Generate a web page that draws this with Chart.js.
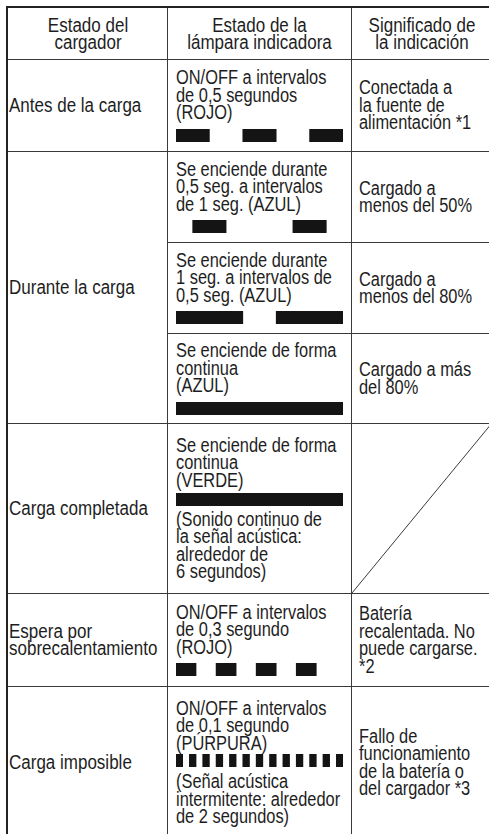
<!DOCTYPE html>
<html lang="es">
<head>
<meta charset="utf-8">
<title>Estado del cargador</title>
<style>
    html, body {
        margin: 0;
        padding: 0;
        background: #fff;
    }
    #sheet {
        position: relative;
        width: 489px;
        height: 834px;
        overflow: hidden;
        font-family: "Liberation Sans", Arial, Helvetica, sans-serif;
        font-size: 20px;
        line-height: 17.5px;
        color: #1e1e1e;
    }
    .cell {
        position: absolute;
        box-sizing: border-box;
        display: flex;
        flex-direction: column;
        justify-content: center;
    }
    .txt {
        white-space: nowrap;
        transform: scaleX(0.82);
        transform-origin: left center;
    }
    .wide .txt {
        transform: scaleX(0.85);
    }
    .center .txt {
        text-align: center;
        transform-origin: center center;
    }
    .rule {
        position: absolute;
        background: #3a3a3a;
    }
    .pulse {
        width: 167px;
        height: 13px;
    }
    .pulse canvas {
        display: block;
    }
</style>
</head>
<body>
<div id="sheet"></div>
<script src="https://cdn.jsdelivr.net/npm/chart.js@4"></script>
<script>
// Column headers
const headers = ['Estado del\ncargador', 'Estado de la\nlámpara indicadora', 'Significado de\nla indicación'];

// Left column: charger state (some span several lamp rows)
const chargerStates = ['Antes de la carga', 'Durante la carga', 'Carga completada', 'Espera por\nsobrecalentamiento', 'Carga imposible'];
const chargerSpans = [1, 3, 1, 1, 1];

// Middle column: lamp description, text under the pulse bar
const lampTexts = [
    'ON/OFF a intervalos\nde 0,5 segundos\n(ROJO)',
    'Se enciende durante\n0,5 seg. a intervalos\nde 1 seg. (AZUL)',
    'Se enciende durante\n1 seg. a intervalos de\n0,5 seg. (AZUL)',
    'Se enciende de forma\ncontinua\n(AZUL)',
    'Se enciende de forma\ncontinua\n(VERDE)',
    'ON/OFF a intervalos\nde 0,3 segundo\n(ROJO)',
    'ON/OFF a intervalos\nde 0,1 segundo\n(PÚRPURA)'
];
const lampNotes = [
    '', '', '', '',
    '(Sonido continuo de\nla señal acústica:\nalrededor de\n6 segundos)',
    '',
    '(Señal acústica\nintermitente: alrededor\nde 2 segundos)'
];

// Lamp ON intervals in seconds [start, end]
const pulsesBefore = [[0, 0.5], [1, 1.5], [2, 2.5]];
const pulsesBelow50 = [[0.25, 0.75], [1.75, 2.25]];
const pulsesBelow80 = [[0, 1], [1.5, 2.5]];
const pulsesAbove80 = [[0, 2.5]];
const pulsesComplete = [[0, 2.5]];
const pulsesOverheat = [[0, 0.3], [0.6, 0.9], [1.2, 1.5], [1.8, 2.1]];
const pulsesFault = [[0, 0.1], [0.2, 0.3], [0.4, 0.5], [0.6, 0.7], [0.8, 0.9], [1, 1.1], [1.2, 1.3],
    [1.4, 1.5], [1.6, 1.7], [1.8, 1.9], [2, 2.1], [2.2, 2.3], [2.4, 2.5]];
const lampPulses = [pulsesBefore, pulsesBelow50, pulsesBelow80, pulsesAbove80, pulsesComplete, pulsesOverheat, pulsesFault];
const timeWindow = [0, 2.5];

// Right column: meaning (null = crossed-out cell)
const meanings = [
    'Conectada a\nla fuente de\nalimentación *1',
    'Cargado a\nmenos del 50%',
    'Cargado a\nmenos del 80%',
    'Cargado a más\ndel 80%',
    null,
    'Batería\nrecalentada. No\npuede cargarse.\n*2',
    'Fallo de\nfuncionamiento\nde la batería o\ndel cargador *3'
];

// Layout (px)
const rowLines = [8, 59, 151, 242, 333, 423, 593, 686, 838];
const colLines = [8, 167, 351, 492];
const padLeft = [1, 9, 8];
const gapAbovePulse = [7, 7, 7, 7, 4, 7, 2];
const gapBelowPulse = [0, 0, 0, 0, 4.5, 0, 6];
const BAR_COLOR = '#141414';

const sheet = document.getElementById('sheet');

function addRule(x, y, w, h, color) {
    const el = document.createElement('div');
    el.className = 'rule';
    el.style.left = x + 'px';
    el.style.top = y + 'px';
    el.style.width = w + 'px';
    el.style.height = h + 'px';
    if (color) el.style.background = color;
    sheet.appendChild(el);
}

function addCell(col, rowStart, rowEnd, cls) {
    const el = document.createElement('div');
    el.className = 'cell ' + cls;
    const x0 = colLines[col] + 1;
    const y0 = rowLines[rowStart] + 1;
    el.style.left = x0 + 'px';
    el.style.top = y0 + 'px';
    el.style.width = (colLines[col + 1] - x0) + 'px';
    el.style.height = (rowLines[rowEnd] - y0) + 'px';
    if (cls.indexOf('center') < 0) el.style.paddingLeft = (padLeft[col] - 1) + 'px';
    sheet.appendChild(el);
    return el;
}

function addText(parent, str, marginTop) {
    const el = document.createElement('div');
    el.className = 'txt';
    el.innerHTML = str.split('\n').join('<br>');
    if (marginTop) el.style.marginTop = marginTop + 'px';
    parent.appendChild(el);
}

function addPulseChart(parent, pulses, marginTop) {
    const wrap = document.createElement('div');
    wrap.className = 'pulse';
    wrap.style.marginTop = marginTop + 'px';
    const canvas = document.createElement('canvas');
    canvas.width = 167;
    canvas.height = 13;
    wrap.appendChild(canvas);
    parent.appendChild(wrap);

    new Chart(canvas, {
        type: 'bar',
        data: {
            labels: [''],
            datasets: pulses.map(p => ({
                data: [p],
                backgroundColor: BAR_COLOR,
                borderWidth: 0,
                grouped: false,
                barPercentage: 1,
                categoryPercentage: 1
            }))
        },
        options: {
            indexAxis: 'y',
            responsive: false,
            animation: false,
            events: [],
            layout: { padding: 0 },
            scales: {
                x: { type: 'linear', min: timeWindow[0], max: timeWindow[1], display: false },
                y: { display: false }
            },
            plugins: {
                legend: { display: false },
                tooltip: { enabled: false }
            }
        }
    });
}

// Header
headers.forEach((h, i) => addText(addCell(i, 0, 1, 'center wide'), h));

// Left column
let row = 1;
chargerStates.forEach((s, i) => {
    addText(addCell(0, row, row + chargerSpans[i], 'wide'), s);
    row += chargerSpans[i];
});

// Middle column with pulse charts
lampTexts.forEach((t, i) => {
    const c = addCell(1, i + 1, i + 2, '');
    addText(c, t);
    addPulseChart(c, lampPulses[i], gapAbovePulse[i]);
    if (lampNotes[i]) addText(c, lampNotes[i], gapBelowPulse[i]);
});

// Right column
meanings.forEach((m, i) => {
    if (m) addText(addCell(2, i + 1, i + 2, ''), m);
});

// Grid lines
addRule(6, 6, 483, 2, '#222');
addRule(6, 6, 2, 834, '#222');
addRule(colLines[1], 8, 1, 834);
addRule(colLines[2], 8, 1, 834);
[1, 2, 5, 6, 7].forEach(r => addRule(8, rowLines[r], 481, 1));
[3, 4].forEach(r => addRule(colLines[1], rowLines[r], 489 - colLines[1], 1));

// Crossed-out cell
const svgNS = 'http://www.w3.org/2000/svg';
const svg = document.createElementNS(svgNS, 'svg');
svg.setAttribute('width', '489');
svg.setAttribute('height', '834');
svg.style.position = 'absolute';
svg.style.left = '0';
svg.style.top = '0';
const diag = document.createElementNS(svgNS, 'line');
diag.setAttribute('x1', colLines[2] + 1);
diag.setAttribute('y1', rowLines[6]);
diag.setAttribute('x2', colLines[3]);
diag.setAttribute('y2', rowLines[5]);
diag.setAttribute('stroke', '#3a3a3a');
diag.setAttribute('stroke-width', '1');
svg.appendChild(diag);
sheet.appendChild(svg);
</script>
</body>
</html>
